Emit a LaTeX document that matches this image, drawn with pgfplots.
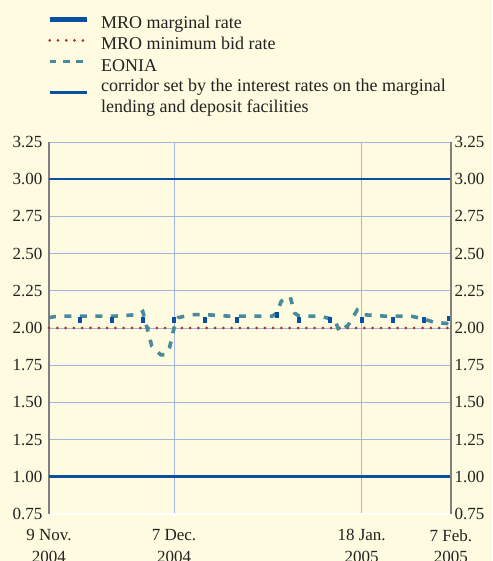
\documentclass[border=0pt]{standalone}
\usepackage{fontspec}
\setmainfont{Liberation Serif}
\usepackage{pgfplots}
\pgfplotsset{compat=1.18}
\definecolor{bg}{HTML}{FEFBE0}
\definecolor{mro}{HTML}{0A50A2}
\definecolor{eonia}{HTML}{4A8A9E}
\definecolor{bidred}{HTML}{B0302A}
\definecolor{gridc}{HTML}{A4B6DE}
\definecolor{axgrey}{HTML}{808080}
\definecolor{txt}{HTML}{222222}
\begin{document}
\begin{tikzpicture}
\fill[bg] (0,0) rectangle (492pt,561pt);
\begin{axis}[
  at={(49pt,47pt)}, anchor=south west,
  scale only axis, width=402pt, height=372pt,
  xmin=0, xmax=90, ymin=0.75, ymax=3.25,
  axis x line*=bottom, axis y line*=box,
  x axis line style={white, line width=1.8pt},
  y axis line style={axgrey, line width=1.8pt},
  xtick={0,28,70,90},
  xticklabels={{9 Nov.\\2004},{7 Dec.\\2004},{18 Jan.\\2005},{7 Feb.\\2005}},
  xticklabel style={align=center, font=\fontsize{17}{21.5}\selectfont, text=txt, yshift=-9pt},
  ytick={0.75,1,1.25,1.5,1.75,2,2.25,2.5,2.75,3,3.25},
  yticklabel style={font=\fontsize{17}{21}\selectfont, text=txt, /pgf/number format/.cd, fixed, fixed zerofill, precision=2, assume math mode=true},
  ytick style={draw=none},
  xtick style={white, line width=1.2pt},
  tick align=outside, major tick length=3pt,
  grid=major, major grid style={gridc, line width=0.8pt},
  unbounded coords=jump,
  clip=false,
  legend style={draw=none, fill=none, inner sep=0pt, at={(axis description cs:-0.005,1.343)}, anchor=north west,
    font=\fontsize{18}{21}\selectfont, text=txt, row sep=1.3pt,
    nodes={inner sep=1pt, text height=13pt, text depth=5pt},
    /tikz/every odd column/.append style={column sep=11pt}},
  legend cell align=left,
  legend image code/.code={\draw[#1] (0pt,5.5pt) -- (37pt,5.5pt);},
]
\addlegendimage{mro, line width=5pt}
\addlegendentry{MRO marginal rate}
\addlegendimage{bidred, line width=3pt, line cap=round, dash pattern=on 0pt off 8.3pt}
\addlegendentry{MRO minimum bid rate}
\addlegendimage{eonia, line width=3.5pt, dash pattern=on 6.7pt off 6.7pt}
\addlegendentry{EONIA}
\addlegendimage{mro, line width=2.5pt}
\addlegendentry[align=left, text height=, text depth=]{corridor set by the interest rates on the marginal\\lending and deposit facilities}

% corridor
\addplot[forget plot, mro, line width=2.6pt] coordinates {(0,3.00) (90,3.00)};
\addplot[forget plot, mro, line width=2.6pt] coordinates {(0,1.00) (90,1.00)};
% MRO minimum bid rate
\addplot[forget plot, bidred, line width=3pt, line cap=round, dash pattern=on 0pt off 8.3pt] coordinates {(0,2.00) (90,2.00)};
% EONIA
\addplot[forget plot, eonia, line width=3.6pt, dash pattern=on 7pt off 8.5pt] coordinates {
(0,2.07) (2,2.08) (5,2.08) (10,2.08) (15,2.08) (20,2.09) (21,2.11) (23,1.88) (25,1.82) (26,1.82)
(27,1.87) (28,2.00) (29,2.07) (32,2.09) (35,2.09) (40,2.08) (45,2.08) (50,2.08) (51,2.10)
(52,2.18) (54,2.21) (55,2.10) (56,2.08) (60,2.08) (62,2.07) (64,2.055) (65,1.975) (67,2.02)
(69,2.12) (70,2.09) (75,2.08) (81,2.08) (84,2.06) (86,2.04) (89,2.03) (90,2.08)
};
% MRO marginal rate
\addplot[forget plot, mro, line width=4pt] table[row sep=\\] {
x y\\
7 2.035\\ 7 2.075\\ 7 nan\\
14 2.035\\ 14 2.075\\ 14 nan\\
21 2.035\\ 21 2.075\\ 21 nan\\
28 2.035\\ 28 2.075\\ 28 nan\\
35 2.035\\ 35 2.075\\ 35 nan\\
42 2.035\\ 42 2.075\\ 42 nan\\
51 2.07\\ 51 2.11\\ 51 nan\\
56 2.035\\ 56 2.075\\ 56 nan\\
63 2.035\\ 63 2.075\\ 63 nan\\
70 2.035\\ 70 2.075\\ 70 nan\\
77 2.035\\ 77 2.075\\ 77 nan\\
84 2.035\\ 84 2.075\\ 84 nan\\
89.5 2.045\\ 89.5 2.08\\
};
\end{axis}
\begin{axis}[
  at={(49pt,47pt)}, anchor=south west,
  scale only axis, width=402pt, height=372pt,
  xmin=0, xmax=90, ymin=0.75, ymax=3.25,
  axis x line=none, axis y line*=right,
  y axis line style={axgrey, line width=1.8pt},
  ytick={0.75,1,1.25,1.5,1.75,2,2.25,2.5,2.75,3,3.25},
  yticklabel style={font=\fontsize{17}{21}\selectfont, text=txt, /pgf/number format/.cd, fixed, fixed zerofill, precision=2, assume math mode=true},
  ytick style={draw=none},
]
\end{axis}
\pgfresetboundingbox
\path[use as bounding box] (0,0) rectangle (492pt,561pt);
\end{tikzpicture}
\end{document}
